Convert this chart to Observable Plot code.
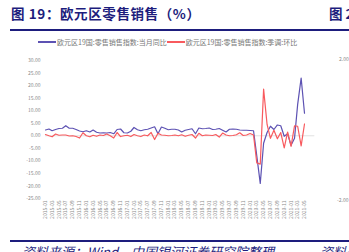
<!DOCTYPE html>
<html><head><meta charset="utf-8">
<script src="https://cdn.jsdelivr.net/npm/d3@7"></script>
<script src="https://cdn.jsdelivr.net/npm/@observablehq/plot@0.6"></script>
<style>
body{margin:0;background:#fff;}
#wrap{position:relative;width:349px;height:252px;overflow:hidden;background:#fff;font-family:"Noto Sans CJK SC",sans-serif;}
.abs{position:absolute;white-space:nowrap;}
#title{left:11px;top:3px;font-size:13.5px;font-weight:bold;color:#1d1d7d;letter-spacing:0.6px;}
#title2{left:329px;top:3px;font-size:13.5px;font-weight:bold;color:#1d1d7d;}
.rule{position:absolute;height:2px;background:#1d1d7d;}
#legend{left:38px;top:37px;font-size:7px;color:#777;display:flex;align-items:center;}
.sw{display:inline-block;width:18px;height:1.2px;margin-right:1px;}
#src{left:22px;top:242px;font-size:13px;font-style:italic;color:#1d1d7d;}
#src2{left:320px;top:242px;font-size:13px;font-style:italic;color:#1d1d7d;}
.rt{font-size:5px;color:#888;}
#chart{left:0;top:50px;}
</style></head>
<body><div id="wrap">
<div id="title" class="abs">图 19：欧元区零售销售（%）</div>
<div id="title2" class="abs">图 2</div>
<div class="rule" style="left:10px;top:29px;width:339px;"></div>
<div id="legend" class="abs"></div>
<div id="chart" class="abs"></div>
<div class="abs rt" style="left:339px;top:55px;">2.00</div>
<div class="abs rt" style="left:337px;top:196px;">-2.00</div>
<div class="rule" style="left:10px;top:240px;width:339px;"></div>
<div id="src" class="abs">资料来源：Wind，中国银河证券研究院整理</div>
<div id="src2" class="abs">资料来</div>
</div>
<script>
const seriesNames = ["欧元区19国:零售销售指数:当月同比", "欧元区19国:零售销售指数:季调:环比"];
const seriesColors = ["#5d52b3", "#f85a5e"];
const firstMonth = "2015-01";
const lastMonth = "2021-05";
const yTicks = [30, 25, 20, 15, 10, 5, 0, -5, -10, -15, -20, -25];
// 当月同比 (YoY)
const yoy = [2.3, 2.7, 2.0, 2.5, 2.9, 3.0, 4.0, 3.0, 3.0, 2.5, 1.9, 1.6,
  2.0, 1.5, 2.3, 1.4, 1.1, 1.2, 1.1, 1.3, 0.8, 2.5, 2.7, 1.2,
  1.1, 1.8, 3.3, 2.4, 2.0, 2.4, 2.6, 3.1, 3.6, 0.8, 3.5, 3.0,
  2.4, 2.6, 2.6, 2.3, 1.5, 2.2, 2.5, 2.8, 0.8, 3.1, 2.8, 2.9,
  3.1, 2.5, 2.6, 2.9, 2.2, 1.5, 2.6, 2.7, 2.6, 2.3, 2.2, 2.2,
  2.1, 2.0, -8.0, -19.0, -3.0, 1.3, 3.8, 2.5, 4.3, 4.0, -0.2, 0.8,
  -3.8, -1.0, 12.5, 23.0, 9.0];
// 季调环比 (MoM)
const mom = [0.5, 0.0, -0.4, 0.7, 0.2, 0.3, 0.3, -0.1, 0.0, -0.3, -0.9, 1.2,
  0.0, -0.4, 0.2, -0.2, 0.3, 0.1, 0.7, 0.0, -0.9, 1.3, -0.3, 0.0,
  0.2, -0.3, 0.5, 0.0, -0.3, 0.3, 0.0, 1.3, -1.5, 1.0, 0.3, 0.2,
  0.0, 0.1, 0.3, 0.0, 0.4, -0.2, 0.2, 0.5, -0.9, 1.0, 0.0, 0.3,
  0.2, 0.1, 0.5, -0.5, 1.1, 0.3, 0.0, 0.1, 0.4, 1.2, 0.1, 0.3,
  0.9, 0.3, -10.8, -11.3, 18.6, 4.5, -1.0, 2.2, -1.2, 1.3, -4.8, 1.5,
  -4.2, 4.0, 3.8, -4.0, 4.7];

const parse = d3.utcParse("%Y-%m");
const t0 = parse(firstMonth), t1 = parse(lastMonth);
const months = d3.utcMonth.range(t0, d3.utcMonth.offset(t1, 1));
const tickDates = months.filter((d, i) => i % 2 === 0);
const data = months.flatMap((d, i) => [
  {date: d, value: yoy[i], s: seriesNames[0]},
  {date: d, value: mom[i], s: seriesNames[1]}
]);

const leg = document.getElementById("legend");
seriesNames.forEach((n, i) => {
  const sw = document.createElement("span"); sw.className = "sw"; sw.style.background = seriesColors[i];
  const tx = document.createElement("span"); tx.textContent = n;
  leg.appendChild(sw); leg.appendChild(tx);
});

const plot = Plot.plot({
  width: 320, height: 180,
  marginLeft: 45, marginRight: 16, marginTop: 10, marginBottom: 32,
  style: {fontSize: "5px", fontFamily: "'Noto Sans CJK SC', sans-serif", color: "#8a8a8a", background: "transparent", overflow: "visible"},
  x: {type: "utc", domain: [t0, t1], ticks: tickDates, tickFormat: d3.utcFormat("%Y-%m"), tickRotate: -90, tickSize: 0, tickPadding: 2, label: null},
  y: {domain: [-25, 30], ticks: yTicks, tickFormat: d => d.toFixed(2), tickSize: 0, tickPadding: 5, label: null},
  color: {domain: seriesNames, range: seriesColors},
  marks: [
    Plot.ruleY([0], {x1: t0, x2: d3.utcMonth.offset(t1, 3), stroke: "#d9d9d9", strokeWidth: 0.8}),
    Plot.lineY(data, {x: "date", y: "value", z: "s", stroke: "s", strokeWidth: 1.2})
  ]
});
document.getElementById("chart").appendChild(plot);
</script>
</body></html>
